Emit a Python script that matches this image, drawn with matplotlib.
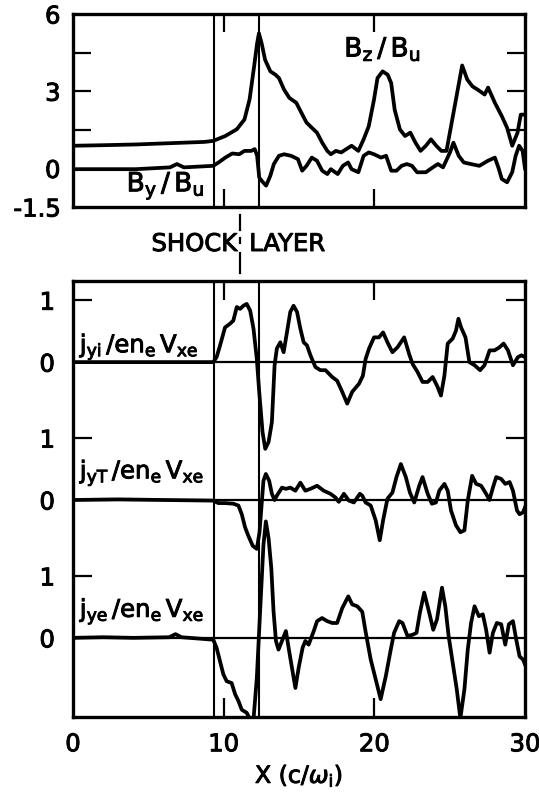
import numpy as np
import matplotlib
matplotlib.use('Agg')
import matplotlib.pyplot as plt
import matplotlib.transforms as mtransforms
import matplotlib.patheffects as pe

plt.rcParams['font.family'] = 'DejaVu Sans'
plt.rcParams['mathtext.fontset'] = 'dejavusans'

# shock layer edges, x in c/omega_i
shock_start = 9.35
shock_end = 12.33
shock_mark = 11.08

# --- magnetic field, upper panel ---
bz_x = [0, 1.86, 4.15, 6.44, 8.74, 9.31, 10.11, 10.87, 11.38, 11.72, 12.02, 12.22,
        12.34, 12.52, 12.75, 13.1, 13.44, 13.67, 14.01, 14.36, 14.82, 15.16, 15.5,
        15.85, 16.19, 16.54, 16.88, 17.11, 17.45, 17.8, 18.14, 18.49, 18.94, 19.29,
        19.63, 19.98, 20.21, 20.55, 20.89, 21.12, 21.35, 21.7, 22.04, 22.39, 22.73,
        23.07, 23.42, 23.76, 24.11, 24.45, 24.79, 25.83, 26.17, 26.51, 26.86, 27.32,
        27.55, 28.0, 28.46, 28.81, 29.15, 29.5, 29.72, 30.0]
bz = [0.88, 0.90, 0.93, 0.98, 1.03, 1.07, 1.26, 1.52, 1.9, 2.68, 3.96, 4.86,
      5.25, 4.86, 4.22, 3.77, 3.64, 3.51, 3.06, 2.74, 2.55, 2.16, 1.78,
      1.58, 1.39, 1.0, 0.68, 0.55, 0.68, 0.62, 0.75, 0.88, 0.68, 1.13,
      1.64, 2.68, 3.51, 3.77, 3.64, 3.31, 2.28, 1.51, 1.26, 1.39, 1.0,
      0.68, 0.88, 1.13, 0.88, 0.68, 0.68, 4.0, 3.45, 3.19, 3.06, 2.87,
      3.14, 2.55, 2.03, 1.58, 0.88, 1.38, 2.09, 2.09]

by_x = [0, 4.15, 6.44, 6.9, 7.36, 9.31, 9.66, 10.11, 10.57, 11.03, 11.38, 11.83,
        12.06, 12.22, 12.36, 12.52, 12.82, 13.1, 13.33, 13.67, 14.01, 14.47, 14.93,
        15.21, 15.5, 15.85, 16.19, 16.54, 16.88, 17.11, 17.57, 17.91, 18.26, 18.49,
        18.94, 19.29, 19.63, 19.98, 20.44, 20.78, 21.12, 21.47, 21.81, 22.16, 22.5,
        22.84, 23.42, 23.88, 24.22, 24.56, 25.02, 25.25, 25.6, 25.94, 26.4, 26.97,
        27.55, 28.0, 28.23, 28.46, 28.81, 29.15, 29.38, 29.61, 29.84, 30.0]
by = [-0.03, -0.03, 0.04, 0.17, 0.04, 0.10, 0.23, 0.42, 0.58, 0.55, 0.68, 0.68,
      0.75, 0.49, -0.35, -0.48, -0.67, -0.28, 0.17, 0.49, 0.55, 0.49, 0.36,
      -0.09, 0.10, 0.42, 0.30, -0.09, -0.22, -0.03, -0.22, 0.10, 0.23, -0.03,
      -0.15, 0.49, 0.62, 0.55, 0.42, 0.49, -0.09, -0.09, 0.10, 0.17, 0.10,
      -0.15, -0.15, 0.04, 0.17, 0.04, 0.62, 1.0, 0.49, 0.23, 0.17, 0.10,
      0.30, 0.42, 0.04, -0.41, -0.54, -0.15, 0.49, 0.88, 0.68, 0.0]

# --- current densities, lower panel ---
jyi_x = [0, 9.31, 9.53, 9.76, 10.09, 10.42, 10.64, 10.87, 11.09, 11.31, 11.53, 11.76,
         11.98, 12.2, 12.36, 12.58, 12.76, 12.98, 13.2, 13.38, 13.53, 13.76, 13.98,
         14.2, 14.42, 14.64, 14.87, 15.09, 15.31, 15.53, 15.76, 16.09, 16.42, 16.76,
         17.2, 17.53, 17.87, 18.2, 18.53, 18.98, 19.24, 19.42, 19.65, 19.98, 20.31,
         20.58, 20.87, 21.2, 21.54, 21.98, 22.31, 22.54, 22.87, 23.2, 23.54, 23.87,
         24.2, 24.42, 24.65, 24.87, 25.2, 25.42, 25.58, 25.76, 26.05, 26.31, 26.65,
         27.02, 27.31, 27.65, 27.98, 28.31, 28.58, 28.87, 29.2, 29.53, 29.76, 30.0]
jyi = [0, 0, 0.08, 0.27, 0.56, 0.62, 0.67, 0.89, 0.86, 0.91, 0.94, 0.83,
       0.54, 0.05, -0.48, -1.13, -1.4, -1.29, -0.97, -0.05, 0.22, 0.32, 0.16,
       0.48, 0.81, 0.91, 0.81, 0.54, 0.32, 0.27, 0.11, -0.08, -0.13, -0.13,
       -0.24, -0.30, -0.48, -0.67, -0.48, -0.35, -0.22, 0.05, 0.22, 0.40, 0.40,
       0.48, 0.32, 0.16, 0.24, 0.40, 0.13, -0.03, -0.16, -0.32, -0.32, -0.24,
       -0.40, -0.54, -0.22, 0.30, 0.38, 0.51, 0.70, 0.56, 0.40, 0.0, -0.05,
       -0.13, -0.05, 0.19, 0.19, 0.24, 0.30, 0.19, -0.05, 0.08, 0.11, 0.08]

jyt_x = [0, 3, 6, 9.31, 9.64, 10.09, 10.64, 10.98, 11.2, 11.42, 11.64, 11.93, 12.2,
         12.38, 12.49, 12.64, 12.8, 13.02, 13.2, 13.38, 13.53, 13.87, 14.13,
         14.42, 14.76, 15.09, 15.42, 15.76, 16.2, 16.64, 17.09, 17.42, 17.64,
         17.98, 18.31, 18.64, 19.04, 19.2, 19.42, 19.76, 20.09, 20.36, 20.58,
         20.87, 21.2, 21.47, 21.76, 22.09, 22.36, 22.65, 22.98, 23.2, 23.54,
         23.82, 24.09, 24.31, 24.65, 24.87, 25.09, 25.42, 25.71, 25.98, 26.2,
         26.49, 26.76, 27.09, 27.42, 27.64, 27.87, 28.09, 28.42, 28.69, 28.98,
         29.2, 29.47, 29.64, 29.87, 30.0]
jyt = [0, 0.01, 0, -0.01, -0.05, -0.05, -0.06, -0.09, -0.23, -0.44, -0.58, -0.74, -0.79,
       -0.52, -0.17, 0.31, 0.42, 0.31, 0.10, 0, 0.07, 0.20, 0.18,
       0.20, 0.15, 0.28, 0.15, 0.18, 0.23, 0.15, 0.10, 0.04, -0.03,
       0.10, -0.01, -0.04, 0.10, 0.07, -0.04, -0.09, -0.33, -0.65, -0.33,
       0.02, 0.12, 0.37, 0.58, 0.37, 0.12, -0.04, 0.23, 0.37, 0.10,
       -0.06, -0.04, 0.15, 0.26, 0.15, -0.17, -0.41, -0.52, -0.49, -0.01,
       0.39, 0.26, 0.23, 0.10, 0, 0.20, 0.37, 0.34, 0.26, 0.29,
       0.15, -0.17, -0.23, -0.20, -0.12]

jye_x = [0, 2, 4, 6.4, 6.8, 7.2, 9.31, 9.53, 9.76, 9.98, 10.2, 10.53, 10.76, 10.98,
         11.2, 11.53, 11.76, 11.87, 11.98, 12.2, 12.42, 12.64, 12.8, 12.98, 13.16,
         13.31, 13.47, 13.64, 13.87, 14.13, 14.31, 14.53, 14.76, 14.98, 15.24,
         15.42, 15.64, 15.98, 16.2, 16.53, 16.87, 17.2, 17.53, 17.87, 18.27,
         18.53, 18.87, 19.2, 19.42, 19.76, 20.09, 20.42, 20.76, 21.09, 21.31,
         21.65, 21.87, 22.2, 22.54, 22.8, 23.02, 23.31, 23.65, 23.91, 24.16,
         24.49, 24.71, 24.93, 25.2, 25.47, 25.71, 25.98, 26.2, 26.42, 26.65,
         26.94, 27.2, 27.42, 27.65, 27.87, 28.13, 28.42, 28.69, 28.93, 29.2,
         29.42, 29.64, 29.87, 30.0]
jye = [0, 0.01, 0, 0.01, 0.06, 0.01, -0.03, -0.16, -0.38, -0.59, -0.70, -0.73, -0.91, -1.02,
       -1.16, -1.21, -1.32, -1.45, -1.32, -0.65, 0.43, 1.5, 1.88, 1.61, 1.13,
       0.43, -0.05, -0.19, -0.05, 0.11, -0.16, -0.48, -0.81, -0.48, -0.16,
       -0.05, -0.11, 0.11, 0.27, 0.32, 0.27, 0.24, 0.24, 0.48, 0.67,
       0.54, 0.51, 0.42, 0.10, -0.35, -0.67, -0.99, -0.62, -0.19, 0.08,
       0.27, 0.24, 0.03, 0.05, 0.08, 0.40, 0.73, 0.40, 0.13, 0.30,
       0.81, 0.51, 0.03, -0.40, -0.83, -1.3, -0.83, -0.19, 0.24, 0.51,
       0.35, 0.38, 0.13, -0.24, 0.08, 0.24, 0.22, -0.11, 0.22, 0.27,
       -0.03, -0.30, -0.35, -0.43]

currents = [
    (jyi_x, jyi, r'$\mathrm{j_{yi}\,/en_e\,V_{xe}}$', 0.16),
    (jyt_x, jyt, r'$\mathrm{j_{yT}\,/en_e\,V_{xe}}$', 0.35),
    (jye_x, jye, r'$\mathrm{j_{ye}\,/en_e\,V_{xe}}$', 0.34),
]
offsets = [0, -2.226, -4.452]   # stacked traces share one box

xticks = [10, 20]
xticklabels = ['0', '10', '20', '30']

LW = 2.7
TICKFS = 17.5
# thicken the lettering a little, like pen-drawn labels
heavy = [pe.withStroke(linewidth=0.7, foreground='k')]

W, H = 539, 798
fig = plt.figure(figsize=(W / 100, H / 100), dpi=100)
ax1 = fig.add_axes([73 / W, 1 - 207 / H, 452 / W, 193 / H])
ax2 = fig.add_axes([73 / W, 1 - 717 / H, 452 / W, 436 / H])

for ax in (ax1, ax2):
    ax.set_xlim(0, 30)
    for s in ax.spines.values():
        s.set_linewidth(2.4)
    ax.axvline(shock_start, color='k', lw=1.5)
    ax.axvline(shock_end, color='k', lw=1.5)
    ax.set_xticks(xticks)
    ax.tick_params(axis='x', direction='in', length=13, width=1.6,
                   top=True, bottom=True)
    ax.yaxis.remove_overlapping_locs = False

# upper panel
ax1.plot(bz_x, bz, color='k', lw=LW)
ax1.plot(by_x, by, color='k', lw=LW)
ax1.set_ylim(-1.5, 6)
ax1.set_yticks([-1.5, 0, 3, 6], ['-1.5', '0', '3', '6'])
ax1.set_yticks([1.5, 3, 4.5], minor=True)
ax1.tick_params(axis='y', which='major', length=0, pad=9, labelsize=TICKFS)
ax1.tick_params(axis='y', which='minor', direction='in', length=13, width=1.6,
                left=True, right=True)
ax1.tick_params(axis='x', labelbottom=False)
ax1.text(20.55, 4.65, r'$\mathrm{B_z\,/\,B_u}$', fontsize=19, ha='center',
         va='center', path_effects=heavy)
ax1.text(6.15, -0.67, r'$\mathrm{B_y\,/\,B_u}$', fontsize=19, ha='center',
         va='center', path_effects=heavy)

# lower panel
for (x, v, label, ly), off in zip(currents, offsets):
    ax2.axhline(off, color='k', lw=1.6)
    ax2.plot(x, np.asarray(v) + off, color='k', lw=LW)
    ax2.text(0.45, off + ly, label, fontsize=17.5, ha='left', va='baseline',
             path_effects=heavy)
ax2.set_ylim(-5.73, 1.31)
yt = []
for off in offsets:
    yt += [off, off + 1]
ax2.set_yticks(yt, ['0', '1'] * 3)
ax2.set_yticks([off + 1 for off in offsets], minor=True)
ax2.tick_params(axis='y', which='major', length=0, pad=13, labelsize=TICKFS)
ax2.tick_params(axis='y', which='minor', direction='in', length=14, width=1.6,
                left=True, right=True)
ax2.set_xticks([0, 10, 20, 30], xticklabels)
ax2.set_xticks(xticks, minor=True)
ax2.tick_params(axis='x', which='major', length=0, pad=11, labelsize=TICKFS)
ax2.tick_params(axis='x', which='minor', direction='in', length=14, width=1.6,
                top=True, bottom=True)
ax2.xaxis.remove_overlapping_locs = False
ax2.set_xlabel(r'X (c/$\omega_\mathrm{i}$)', fontsize=17, labelpad=4,
               path_effects=heavy)

for lab in ax1.get_yticklabels() + ax2.get_yticklabels() + ax2.get_xticklabels():
    lab.set_path_effects(heavy)

# shock layer marker between the panels
tr = mtransforms.blended_transform_factory(ax2.transData, fig.transFigure)
for y0, y1 in [(215, 230), (238, 243), (253, 273)]:
    ax2.plot([shock_mark, shock_mark], [1 - y0 / H, 1 - y1 / H], color='k',
             lw=1.6, transform=tr, clip_on=False)
ax2.text(10.9, 1 - 244 / H, 'SHOCK', transform=tr, fontsize=17.5,
         ha='right', va='center', path_effects=heavy)
ax2.text(11.7, 1 - 244 / H, 'LAYER', transform=tr, fontsize=17.5,
         ha='left', va='center', path_effects=heavy)

fig.savefig('out.png', dpi=100)
